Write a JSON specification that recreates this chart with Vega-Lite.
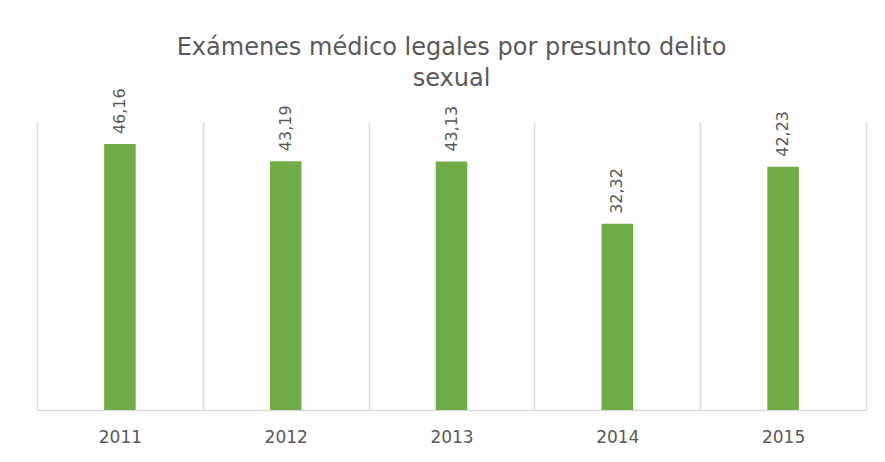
{
  "$schema": "https://vega.github.io/schema/vega-lite/v6.json",
  "width": 829,
  "height": 288,
  "autosize": {"type": "none"},
  "padding": {"left": 37, "top": 122, "right": 19, "bottom": 52},
  "background": "white",
  "config": {
    "view": {"stroke": null},
    "locale": {"number": {"decimal": ",", "thousands": ".", "grouping": [3], "currency": ["", " €"]}},
    "font": "DejaVu Sans"
  },
  "title": {
    "text": ["Exámenes médico legales por presunto delito", "sexual"],
    "fontSize": 24,
    "fontWeight": "normal",
    "color": "#595959",
    "font": "DejaVu Sans",
    "anchor": "middle",
    "offset": -3,
    "lineHeight": 31
  },
  "data": {
    "values": [
      {"year": "2011", "value": 46.16},
      {"year": "2012", "value": 43.19},
      {"year": "2013", "value": 43.13},
      {"year": "2014", "value": 32.32},
      {"year": "2015", "value": 42.23}
    ]
  },
  "encoding": {
    "x": {
      "field": "year",
      "type": "nominal",
      "scale": {"paddingInner": 0, "paddingOuter": 0},
      "axis": {
        "title": null,
        "labelAngle": 0,
        "labelFontSize": 17,
        "labelColor": "#595959",
        "labelPadding": 19,
        "ticks": false,
        "grid": true,
        "tickBand": "extent",
        "gridColor": "#d9d9d9",
        "gridWidth": 1.5,
        "domainColor": "#d9d9d9",
        "domainWidth": 1.5
      }
    },
    "y": {
      "field": "value",
      "type": "quantitative",
      "scale": {"domain": [0, 50]},
      "axis": null
    }
  },
  "layer": [
    {
      "mark": {"type": "bar", "color": "#70AD47", "width": {"band": 0.19}}
    },
    {
      "mark": {"type": "text", "angle": 270, "align": "left", "baseline": "middle", "dx": 10, "fontSize": 16, "color": "#595959"},
      "encoding": {
        "text": {"field": "value", "type": "quantitative", "format": ".2f"}
      }
    }
  ]
}
